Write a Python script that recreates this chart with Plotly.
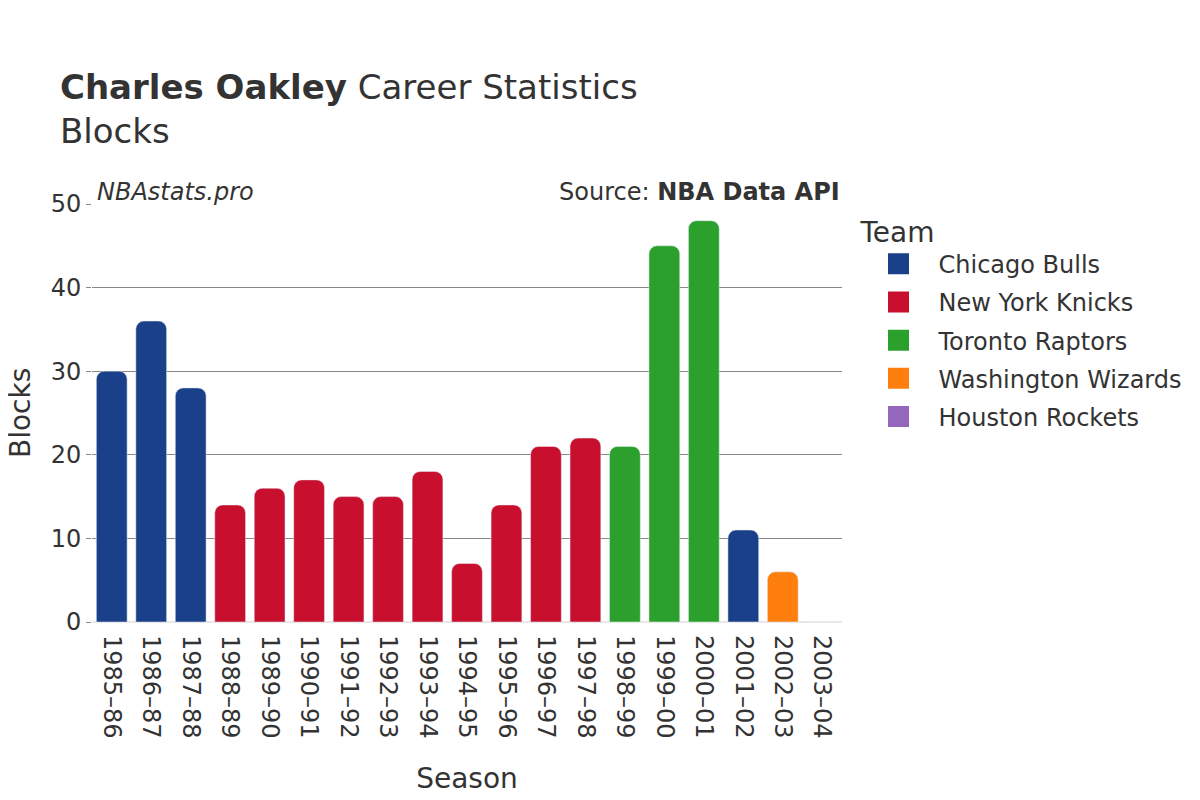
import plotly.graph_objects as go

seasons = [
    "1985–86", "1986–87", "1987–88", "1988–89", "1989–90", "1990–91",
    "1991–92", "1992–93", "1993–94", "1994–95", "1995–96", "1996–97",
    "1997–98", "1998–99", "1999–00", "2000–01", "2001–02", "2002–03",
    "2003–04",
]
teams = [
    "Chicago Bulls", "Chicago Bulls", "Chicago Bulls",
    "New York Knicks", "New York Knicks", "New York Knicks",
    "New York Knicks", "New York Knicks", "New York Knicks",
    "New York Knicks", "New York Knicks", "New York Knicks",
    "New York Knicks", "Toronto Raptors", "Toronto Raptors",
    "Toronto Raptors", "Chicago Bulls", "Washington Wizards",
    "Houston Rockets",
]
blocks = [30, 36, 28, 14, 16, 17, 15, 15, 18, 7, 14, 21, 22, 21, 45, 48, 11, 6, 0]

team_order = [
    "Chicago Bulls", "New York Knicks", "Toronto Raptors",
    "Washington Wizards", "Houston Rockets",
]
team_colors = {
    "Chicago Bulls": "#1b408a",
    "New York Knicks": "#c8102e",
    "Toronto Raptors": "#2ca02c",
    "Washington Wizards": "#ff7f0e",
    "Houston Rockets": "#9467bd",
}

FONT = "DejaVu Sans, sans-serif"

fig = go.Figure()
for team in team_order:
    xs = [s for s, t in zip(seasons, teams) if t == team]
    ys = [b for b, t in zip(blocks, teams) if t == team]
    fig.add_trace(
        go.Bar(
            x=xs,
            y=ys,
            name=team,
            legendgroup=team,
            showlegend=False,
            marker=dict(color=team_colors[team]),
        )
    )
    # legend-only entry with a bigger square swatch
    fig.add_trace(
        go.Scatter(
            x=[seasons[0]],
            y=[None],
            mode="markers",
            name=team,
            legendgroup=team,
            marker=dict(
                symbol="square",
                size=16,
                color=team_colors[team],
                line=dict(color=team_colors[team], width=5),
            ),
            hoverinfo="skip",
        )
    )

fig.update_layout(
    width=1200,
    height=800,
    barmode="relative",
    bargap=0.22,
    barcornerradius=8,
    plot_bgcolor="white",
    paper_bgcolor="white",
    font=dict(family=FONT, size=24, color="#333333"),
    margin=dict(l=84, r=366, t=196, b=186),
    title=dict(
        text="<b>Charles Oakley</b> Career Statistics<br>Blocks",
        x=0.0433,
        xanchor="left",
        y=0.886,
        yanchor="top",
        font=dict(family=FONT, size=34, color="#333333"),
    ),
    legend=dict(
        title=dict(text="Team", font=dict(size=28)),
        font=dict(size=24),
        x=1.022,
        xanchor="left",
        y=0.997,
        yanchor="top",
        itemsizing="trace",
        itemwidth=70,
        tracegroupgap=4,
    ),
    xaxis=dict(
        title=dict(text="Season", font=dict(size=28), standoff=30),
        categoryorder="array",
        categoryarray=seasons,
        range=[-0.5, len(seasons) - 0.5],
        tickangle=90,
        ticklabelstandoff=12,
        showgrid=False,
        automargin=False,
    ),
    yaxis=dict(
        range=[0, 50],
        dtick=10,
        showgrid=True,
        gridcolor="#888888",
        gridwidth=1,
        zeroline=True,
        zerolinecolor="#e8e8e8",
        zerolinewidth=2,
        ticks="outside",
        ticklen=5,
        tickcolor="#888888",
        automargin=False,
    ),
    annotations=[
        dict(
            text="Blocks",
            textangle=-90,
            xref="paper", yref="paper",
            x=0.0, y=0.5,
            xanchor="center", yanchor="middle",
            xshift=-72,
            showarrow=False,
            font=dict(size=28, color="#333333"),
        ),
        dict(
            text="<i>NBAstats.pro</i>",
            xref="paper", yref="paper",
            x=0.0, y=1.0,
            xanchor="left", yanchor="bottom",
            xshift=3,
            yshift=-4,
            showarrow=False,
            font=dict(size=24, color="#333333"),
        ),
        dict(
            text="Source: <b>NBA Data API</b>",
            xref="paper", yref="paper",
            x=1.0, y=1.0,
            xanchor="right", yanchor="bottom",
            yshift=-4,
            showarrow=False,
            font=dict(size=24, color="#333333"),
        ),
    ],
)

fig.write_html("out.html")
